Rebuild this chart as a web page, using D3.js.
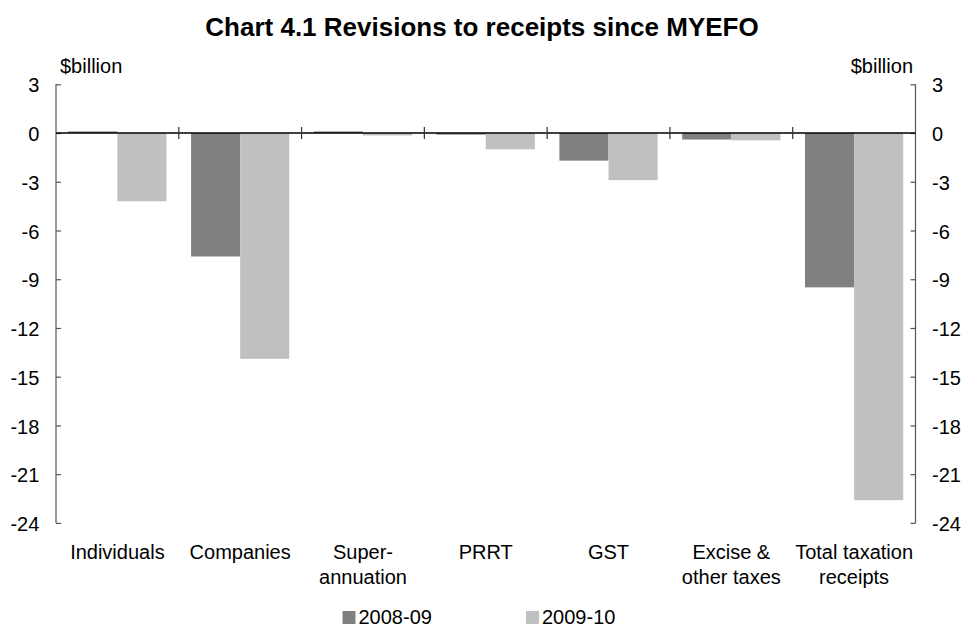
<!DOCTYPE html>
<html>
<head>
<meta charset="utf-8">
<script src="https://cdn.jsdelivr.net/npm/d3@7"></script>
<style>
  html, body { margin: 0; padding: 0; background: #fff; }
  svg { display: block; font-family: "Liberation Sans", Arial, sans-serif; }
</style>
</head>
<body>
<svg id="chart" width="964" height="628"></svg>
<script>
// Revisions to receipts since MYEFO, $billion
const categories = [
  ["Individuals"],
  ["Companies"],
  ["Super-", "annuation"],
  ["PRRT"],
  ["GST"],
  ["Excise &", "other taxes"],
  ["Total taxation", "receipts"]
];
const seriesNames = ["2008-09", "2009-10"];
const values0809 = [0.1, -7.6, 0.1, -0.1, -1.7, -0.4, -9.5];
const values0910 = [-4.2, -13.9, -0.15, -1.0, -2.9, -0.45, -22.6];
const yTicks = [3, 0, -3, -6, -9, -12, -15, -18, -21, -24];
const colors = ["#808080", "#c0c0c0"];

const svg = d3.select("#chart");
const plotLeft = 56, plotRight = 915.5, plotTop = 84.3, plotBottom = 522.9;
const fontSize = 20;

const x0 = d3.scaleBand()
  .domain(d3.range(categories.length))
  .range([plotLeft, plotRight])
  .paddingInner(0.2)
  .paddingOuter(0.1);
const x1 = d3.scaleBand()
  .domain(seriesNames)
  .range([0, x0.bandwidth()]);
const y = d3.scaleLinear().domain([-24, 3]).range([plotBottom, plotTop]);

// Title
svg.append("text")
  .attr("x", 482).attr("y", 36)
  .attr("text-anchor", "middle")
  .attr("font-size", 26).attr("font-weight", "bold")
  .text("Chart 4.1 Revisions to receipts since MYEFO");

// Unit labels
svg.append("text").attr("x", 60).attr("y", 73)
  .attr("font-size", fontSize).text("$billion");
svg.append("text").attr("x", 913).attr("y", 73)
  .attr("text-anchor", "end").attr("font-size", fontSize).text("$billion");

// Bars
const rows = categories.map((c, i) => ({ i, vals: [values0809[i], values0910[i]] }));
const groups = svg.append("g").selectAll("g").data(rows).join("g")
  .attr("transform", d => `translate(${x0(d.i)},0)`);
groups.selectAll("rect")
  .data(d => d.vals.map((v, k) => ({ v, k })))
  .join("rect")
  .attr("x", d => x1(seriesNames[d.k]))
  .attr("width", x1.bandwidth())
  .attr("y", d => y(Math.max(0, d.v)))
  .attr("height", d => Math.abs(y(d.v) - y(0)))
  .attr("fill", d => colors[d.k]);

// Left and right value axes, ticks pointing inward, plain hyphen minus signs
const fmt = d => String(d);
const axisL = d3.axisLeft(y).tickValues(yTicks).tickFormat(fmt).tickSize(-5).tickPadding(16.7);
const axisR = d3.axisRight(y).tickValues(yTicks).tickFormat(fmt).tickSize(-5).tickPadding(16.5);
function styleAxis(g) {
  g.select(".domain").attr("stroke", "#555").attr("stroke-width", 1.2)
    .attr("d", `M0,${plotTop}V${plotBottom}`);
  g.selectAll(".tick line").attr("stroke", "#555").attr("stroke-width", 1.2);
  g.selectAll(".tick text").attr("font-size", fontSize).attr("fill", "#000")
    .attr("dy", "0.38em")
    .attr("font-family", "Liberation Sans, Arial, sans-serif");
}
svg.append("g").attr("transform", `translate(${plotLeft},0)`).call(axisL).call(styleAxis);
svg.append("g").attr("transform", `translate(${plotRight},0)`).call(axisR).call(styleAxis);

// Zero line with category separators
svg.append("line")
  .attr("x1", plotLeft).attr("x2", plotRight)
  .attr("y1", y(0)).attr("y2", y(0))
  .attr("stroke", "#000").attr("stroke-width", 1.5);
const seps = d3.range(1, categories.length).map(i => x0(i) - x0.step() * x0.paddingInner() / 2);
svg.append("g").selectAll("line").data(seps).join("line")
  .attr("x1", d => d).attr("x2", d => d)
  .attr("y1", y(0) - 6).attr("y2", y(0) + 6)
  .attr("stroke", "#333").attr("stroke-width", 1.2);

// Category labels
const labels = svg.append("g").selectAll("text").data(categories).join("text")
  .attr("x", (d, i) => x0(i) + x0.bandwidth() / 2)
  .attr("y", 559)
  .attr("text-anchor", "middle")
  .attr("font-size", fontSize);
labels.selectAll("tspan").data(d => d).join("tspan")
  .attr("x", function() { return d3.select(this.parentNode).attr("x"); })
  .attr("dy", (d, i) => i === 0 ? 0 : 25)
  .text(d => d);

// Legend
const legendX = [342.5, 526];
const legend = svg.append("g").selectAll("g").data(seriesNames).join("g")
  .attr("transform", (d, i) => `translate(${legendX[i]},611)`);
legend.append("rect").attr("width", 13).attr("height", 13).attr("fill", (d, i) => colors[i]);
legend.append("text").attr("x", 16).attr("y", 13).attr("font-size", fontSize).text(d => d);
</script>
</body>
</html>
